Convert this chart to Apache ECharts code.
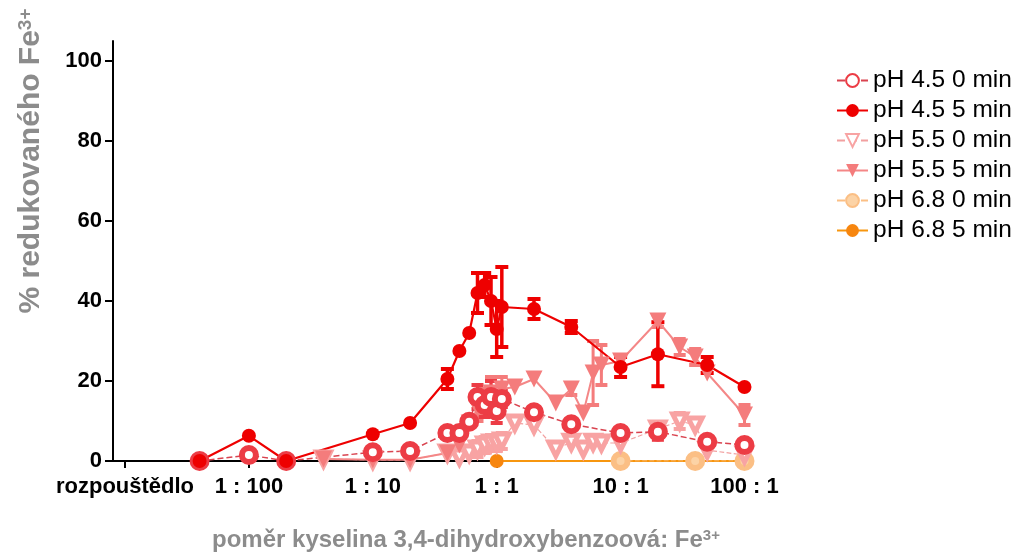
<!DOCTYPE html>
<html>
<head>
<meta charset="utf-8">
<script src="https://cdn.jsdelivr.net/npm/echarts@6/dist/echarts.min.js"></script>
<style>
html, body { margin: 0; padding: 0; background: #fff; }
#chart { width: 1024px; height: 555px; }
</style>
</head>
<body>
<div id="chart"></div>
<script>
// osa x: pomer kyselina : Fe3+ (0.001 = rozpoustedlo)
var tickValues = [0.001, 0.01, 0.1, 1, 10, 100];
var tickLabels = ['rozpouštědlo', '1 : 100', '1 : 10', '1 : 1', '10 : 1', '100 : 1'];
var yTicks = [0, 20, 40, 60, 80, 100];

// pH 4.5
var ratio45 = [0.004, 0.01, 0.02, 0.1, 0.2, 0.4, 0.5, 0.6, 0.7, 0.8, 0.9, 1, 1.1, 2, 4, 10, 20, 50, 100];
var ph45_0 = [0, 1.5, 0, 2.2, 2.5, 7, 7, 9.8, 16, 14, 16, 12.5, 15.5, 12.2, 9.2, 7, 7.3, 4.8, 4];
var ph45_0err = [0, 0, 0, 0, 0, 0, 0, 0, 3, 3, 4, 3, 2, 0, 0, 0, 2, 0, 0];
var ph45_5 = [0, 6.3, 0, 6.7, 9.5, 20.5, 27.5, 32, 42, 44, 40, 33, 38.5, 38, 33.5, 23.5, 26.7, 24, 18.5];
var ph45_5err = [0, 0, 0, 0, 0, 2.5, 0, 0, 5, 3, 6, 7, 10, 2.5, 1.5, 2.5, 8, 2, 0];

// pH 5.5
var ratio55 = [0.04, 0.1, 0.2, 0.4, 0.5, 0.6, 0.7, 0.8, 0.9, 1, 1.1, 1.4, 2, 3, 4, 5, 6, 7, 10, 20, 30, 40, 50, 100];
var ph55_0 = [0.5, 0.3, 0.3, 2, 1, 2, 3, 4, 4.5, 4.5, 5, 9.5, 9, 3, 4.7, 3, 4.7, 4.5, 4.5, 8, 10, 9, 2.7, 1.5];
var ph55_0err = [0, 0, 0, 0, 0, 0, 2, 2, 2, 2, 2, 0, 0, 0, 0, 0, 0, 0, 0, 0, 2, 0, 0, 0];
var ph55_5 = [0.5, 0.3, 0.3, 2, 4, 9.5, 13, 15, 17, 14, 18, 18.5, 20.5, 14.5, 18, 12, 22, 24, 25, 35, 28.5, 26, 22, 11.5];
var ph55_5err = [0, 0, 0, 0, 0, 0, 3, 3, 4, 3, 3, 0, 0, 0, 1.5, 0, 8, 5, 0, 1.5, 2, 2, 0, 2.5];

// pH 6.8
var ratio68_0 = [10, 40, 100];
var ph68_0 = [0, 0, 0];
var ratio68_5 = [1, 10, 40, 100];
var ph68_5 = [0, 0, 0, 0];

function pts(xs, ys) {
  return xs.map(function (x, i) { return [x, ys[i]]; });
}
function errPts(xs, ys, es) {
  return xs.map(function (x, i) { return [x, ys[i], es[i]]; })
    .filter(function (d) { return d[2] > 0; });
}
function errRender(color, lw, cap) {
  return function (params, api) {
    var x = api.value(0), y = api.value(1), e = api.value(2);
    var lo = api.coord([x, y - e]);
    var hi = api.coord([x, y + e]);
    var st = { stroke: color, lineWidth: lw };
    var capSt = { stroke: color, lineWidth: 4 };
    return {
      type: 'group',
      children: [
        { type: 'line', shape: { x1: lo[0], y1: lo[1], x2: hi[0], y2: hi[1] }, style: st },
        { type: 'line', shape: { x1: lo[0] - cap, y1: lo[1], x2: lo[0] + cap, y2: lo[1] }, style: capSt },
        { type: 'line', shape: { x1: hi[0] - cap, y1: hi[1], x2: hi[0] + cap, y2: hi[1] }, style: capSt }
      ]
    };
  };
}
function errSeries(name, data, color, lw, cap) {
  return {
    name: name + ' err',
    type: 'custom',
    data: data,
    encode: { x: 0, y: 1 },
    renderItem: errRender(color, lw, cap),
    silent: true
  };
}

var font = 'Liberation Sans, Arial, sans-serif';
var myChart = echarts.init(document.getElementById('chart'));

var option = {
  animation: false,
  textStyle: { fontFamily: font },
  grid: { left: 113, right: 272, top: 41, bottom: 94, outerBoundsMode: 'none' },
  legend: {
    data: ['pH 4.5 0 min', 'pH 4.5 5 min', 'pH 5.5 0 min', 'pH 5.5 5 min', 'pH 6.8 0 min', 'pH 6.8 5 min'],
    orient: 'vertical',
    left: 831,
    top: 63,
    itemWidth: 31,
    itemHeight: 16,
    itemGap: 5,
    itemTextGap: 5,
    textStyle: { fontSize: 24.5, color: '#000', fontFamily: font }
  },
  xAxis: {
    type: 'log',
    logBase: 10,
    min: 0.0008,
    max: 115,
    axisLine: { lineStyle: { color: '#000', width: 2 } },
    axisTick: { customValues: tickValues, length: 7, lineStyle: { color: '#000', width: 2 } },
    axisLabel: {
      customValues: tickValues,
      formatter: function (v) {
        return tickLabels[Math.round(Math.log10(v)) + 3];
      },
      color: '#000',
      fontSize: 22,
      fontWeight: 'bold',
      margin: 15
    },
    splitLine: { show: false }
  },
  yAxis: {
    type: 'value',
    min: 0,
    max: 105,
    axisLine: { show: true, lineStyle: { color: '#000', width: 2 } },
    axisTick: { show: true, customValues: yTicks, length: 8, lineStyle: { color: '#000', width: 2 } },
    axisLabel: { customValues: yTicks, color: '#000', fontSize: 22, fontWeight: 'bold', margin: 11 },
    splitLine: { show: false }
  },
  graphic: [
    {
      type: 'text',
      x: 31,
      y: 161,
      rotation: Math.PI / 2,
      style: {
        text: '% redukovaného Fe{sup|3+}',
        align: 'center',
        verticalAlign: 'middle',
        fontSize: 30,
        fontWeight: 'bold',
        fontFamily: font,
        fill: '#8c8c8c',
        rich: {
          sup: { fontSize: 19, fontWeight: 'bold', fill: '#8c8c8c', verticalAlign: 'top', padding: [0, 0, 8, 0] }
        }
      }
    },
    {
      type: 'text',
      x: 466,
      y: 540,
      style: {
        text: 'poměr kyselina 3,4-dihydroxybenzoová: Fe{sup|3+}',
        align: 'center',
        verticalAlign: 'middle',
        fontSize: 24,
        fontWeight: 'bold',
        fontFamily: font,
        fill: '#8c8c8c',
        rich: {
          sup: { fontSize: 15, fontWeight: 'bold', fill: '#8c8c8c', verticalAlign: 'top', padding: [0, 0, 6, 0] }
        }
      }
    }
  ],
  series: [
    {
      name: 'pH 6.8 5 min',
      type: 'line',
      data: pts(ratio68_5, ph68_5),
      symbol: 'circle',
      symbolSize: 14,
      itemStyle: { color: '#f7860f' },
      lineStyle: { color: '#f7960f', width: 2 }
    },
    {
      name: 'pH 6.8 0 min',
      type: 'line',
      data: pts(ratio68_0, ph68_0),
      symbol: 'circle',
      symbolSize: 14,
      itemStyle: { color: '#fcd3a6', borderColor: '#fbbf85', borderWidth: 6 },
      lineStyle: { color: '#fbbf85', width: 1.2, type: 'dashed' }
    },
    {
      name: 'pH 5.5 0 min',
      type: 'line',
      data: pts(ratio55, ph55_0),
      symbol: 'triangle',
      symbolRotate: 180,
      symbolSize: 14,
      itemStyle: { color: '#fff', borderColor: '#f8a3a3', borderWidth: 5 },
      lineStyle: { color: '#f2a0a0', width: 1.2, type: 'dashed' }
    },
    errSeries('pH 5.5 0 min', errPts(ratio55, ph55_0, ph55_0err), '#f8a3a3', 3, 6),
    {
      name: 'pH 5.5 5 min',
      type: 'line',
      data: pts(ratio55, ph55_5),
      symbol: 'triangle',
      symbolRotate: 180,
      symbolSize: 17,
      itemStyle: { color: '#f47c7c' },
      lineStyle: { color: '#f48787', width: 2 }
    },
    errSeries('pH 5.5 5 min', errPts(ratio55, ph55_5, ph55_5err), '#f47c7c', 3, 6),
    {
      name: 'pH 4.5 0 min',
      type: 'line',
      data: pts(ratio45, ph45_0),
      symbol: 'circle',
      symbolSize: 14,
      itemStyle: { color: '#fff', borderColor: '#ec3c45', borderWidth: 6 },
      lineStyle: { color: '#d9434f', width: 1.5, type: 'dashed' }
    },
    errSeries('pH 4.5 0 min', errPts(ratio45, ph45_0, ph45_0err), '#ec3c45', 3, 6),
    {
      name: 'pH 4.5 5 min',
      type: 'line',
      data: pts(ratio45, ph45_5),
      symbol: 'circle',
      symbolSize: 14,
      itemStyle: { color: '#ee0000' },
      lineStyle: { color: '#ee0000', width: 2.2 }
    },
    errSeries('pH 4.5 5 min', errPts(ratio45, ph45_5, ph45_5err), '#ee0000', 3.5, 6.5)
  ]
};

myChart.setOption(option);
</script>
</body>
</html>
